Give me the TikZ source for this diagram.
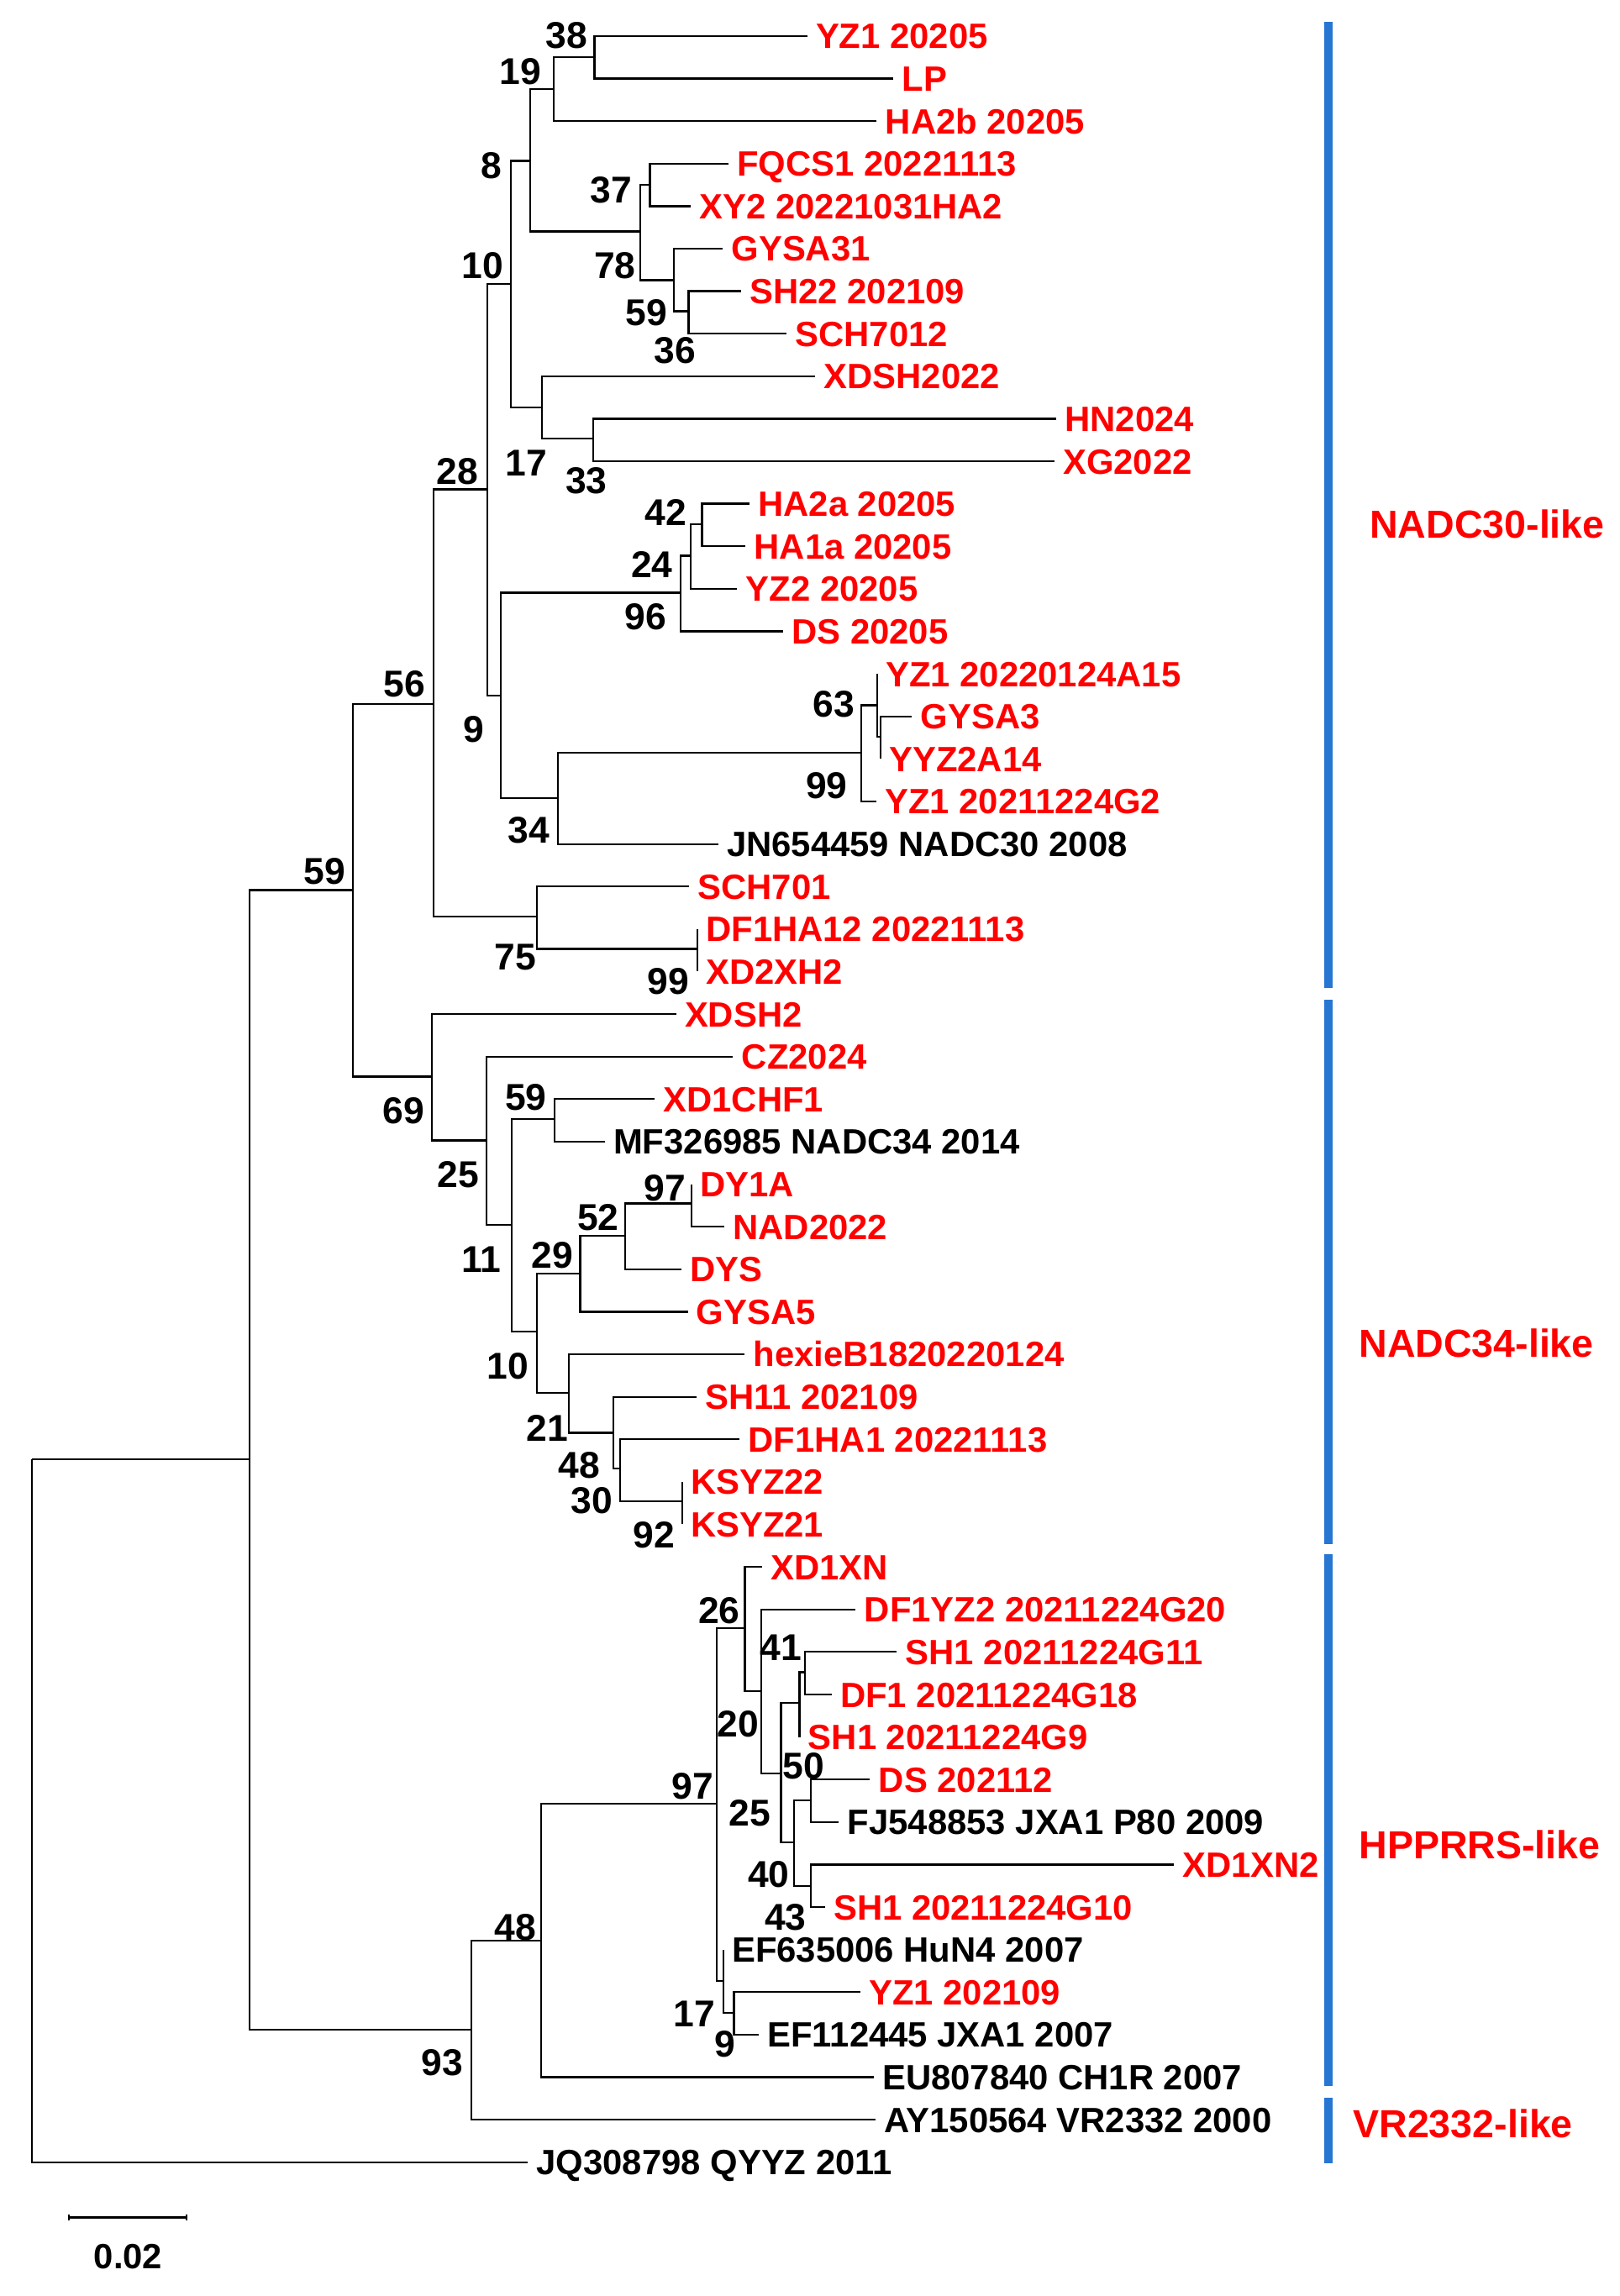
\documentclass[tikz,border=0pt]{standalone}
\usepackage{fontspec}
\setmainfont{Liberation Sans}
\usetikzlibrary{arrows.meta, positioning}
\definecolor{barblue}{RGB}{38,118,210}

\begin{document}
\begin{tikzpicture}[
  x=0.02cm, y=-0.02cm,
  branch/.style={line width=0.75pt, black},
  leaf/.style={anchor=west, inner xsep=0.12cm, inner ysep=0pt, outer sep=0pt, text height=9.8pt, text depth=0pt, font=\fontsize{13.66}{16}\selectfont\bfseries, text=red},
  refleaf/.style={leaf, text=black},
  bs/.style={inner sep=0pt, text height=10.4pt, text depth=0pt, font=\fontsize{14.5}{17}\selectfont\bfseries},
  clade/.style={anchor=west, inner sep=0pt, text height=10.9pt, text depth=0pt, font=\fontsize{15.2}{18}\selectfont\bfseries, text=red},
  cladebar/.style={line width=3.3pt, barblue}
]
\useasboundingbox (0,0) rectangle (1106,1568);

% Internal nodes
\coordinate (root) at (22,996.6);
\coordinate (nL) at (170.2,996.6);
\coordinate (nN) at (240.9,607.9);
\coordinate (n56) at (296.0,480.6);
\coordinate (n28) at (332.8,334.2);
\coordinate (n10) at (349.0,193.8);
\coordinate (n8) at (362.0,109.8);
\coordinate (n19) at (377.9,61.0);
\coordinate (n38) at (405.9,39.1);
\coordinate (n78) at (437.3,158.0);
\coordinate (n37) at (443.8,126.2);
\coordinate (n59c) at (460.0,191.4);
\coordinate (n36) at (470.2,212.5);
\coordinate (n17) at (370.1,278.3);
\coordinate (n33) at (405.0,299.6);
\coordinate (n9) at (342.1,475.1);
\coordinate (n96) at (464.9,404.8);
\coordinate (n24) at (471.5,379.6);
\coordinate (n42) at (479.4,357.9);
\coordinate (n34) at (380.9,544.9);
\coordinate (n99a) at (588.1,514.2);
\coordinate (n63) at (598.9,481.7);
\coordinate (nG) at (601.2,503.2);
\coordinate (n75) at (366.8,626.1);
\coordinate (n99b) at (476.1,648.0);
\coordinate (n69) at (294.7,735.2);
\coordinate (n25) at (332.2,778.8);
\coordinate (n11) at (349.3,836.4);
\coordinate (n59b) at (378.8,764.2);
\coordinate (n10b) at (366.7,909.4);
\coordinate (n29) at (396.2,869.7);
\coordinate (n52) at (426.8,844.1);
\coordinate (n97a) at (472.0,821.8);
\coordinate (n21) at (388.6,951.1);
\coordinate (n48a) at (418.8,978.5);
\coordinate (n30) at (423.3,1002.9);
\coordinate (n92) at (465.7,1025.4);
\coordinate (n93) at (321.8,1386.3);
\coordinate (n48b) at (369.5,1325.1);
\coordinate (n97b) at (489.4,1231.6);
\coordinate (n26) at (508.6,1111.7);
\coordinate (n20) at (519.8,1154.7);
\coordinate (nX) at (533.2,1211.1);
\coordinate (nY) at (545.9,1162.9);
\coordinate (n41) at (549.7,1142.0);
\coordinate (n25b) at (542.0,1258.2);
\coordinate (n50) at (553.6,1229.5);
\coordinate (n43) at (553.6,1287.9);
\coordinate (nH) at (493.8,1352.9);
\coordinate (n17b) at (501.1,1374.5);

% Taxa
\node[leaf] (yz1a) at (551.1,24.6) {YZ1 20205};
\node[leaf] (lp) at (610.1,53.6) {LP};
\node[leaf] (ha2b) at (598.6,82.7) {HA2b 20205};
\node[leaf] (fqcs1) at (497.3,111.7) {FQCS1 20221113};
\node[leaf] (xy2) at (471.8,140.8) {XY2 20221031HA2};
\node[leaf] (gysa31) at (493.5,169.8) {GYSA31};
\node[leaf] (sh22) at (506.0,198.8) {SH22 202109};
\node[leaf] (sch7012) at (537.1,227.9) {SCH7012};
\node[leaf] (xdsh2022) at (556.7,256.9) {XDSH2022};
\node[leaf] (hn2024) at (721.1,286.0) {HN2024};
\node[leaf] (xg2022) at (719.9,315.0) {XG2022};
\node[leaf] (ha2a) at (511.7,344.0) {HA2a 20205};
\node[leaf] (ha1a) at (509.0,373.1) {HA1a 20205};
\node[leaf] (yz2) at (503.4,402.1) {YZ2 20205};
\node[leaf] (ds20205) at (534.7,431.2) {DS 20205};
\node[leaf] (yz1b) at (598.9,460.2) {YZ1 20220124A15};
\node[leaf] (gysa3) at (622.6,489.2) {GYSA3};
\node[leaf] (yyz2) at (601.2,518.3) {YYZ2A14};
\node[leaf] (yz1c) at (598.3,547.3) {YZ1 20211224G2};
\node[refleaf] (jn654459) at (490.3,576.4) {JN654459 NADC30 2008};
\node[leaf] (sch701) at (470.5,605.4) {SCH701};
\node[leaf] (df1ha12) at (476.1,634.4) {DF1HA12 20221113};
\node[leaf] (xd2xh2) at (476.1,663.5) {XD2XH2};
\node[leaf] (xdsh2) at (461.6,692.5) {XDSH2};
\node[leaf] (cz2024) at (500.5,721.6) {CZ2024};
\node[leaf] (xd1chf1) at (447.0,750.6) {XD1CHF1};
\node[refleaf] (mf326985) at (412.9,779.6) {MF326985 NADC34 2014};
\node[leaf] (dy1a) at (472.0,808.7) {DY1A};
\node[leaf] (nad2022) at (494.6,837.7) {NAD2022};
\node[leaf] (dys) at (465.1,866.8) {DYS};
\node[leaf] (gysa5) at (469.6,895.8) {GYSA5};
\node[leaf] (hexie) at (508.5,924.8) {hexieB1820220124};
\node[leaf] (sh11) at (475.5,953.9) {SH11 202109};
\node[leaf] (df1ha1) at (505.0,982.9) {DF1HA1 20221113};
\node[leaf] (ksyz22) at (465.7,1012.0) {KSYZ22};
\node[leaf] (ksyz21) at (465.7,1041.0) {KSYZ21};
\node[leaf] (xd1xn) at (520.2,1070.0) {XD1XN};
\node[leaf] (df1yz2) at (584.3,1099.1) {DF1YZ2 20211224G20};
\node[leaf] (sh1g11) at (612.4,1128.1) {SH1 20211224G11};
\node[leaf] (df1g18) at (567.8,1157.2) {DF1 20211224G18};
\node[leaf] (sh1g9) at (545.9,1186.2) {SH1 20211224G9};
\node[leaf] (ds202112) at (594.0,1215.2) {DS 202112};
\node[refleaf] (fj548853) at (572.8,1244.3) {FJ548853 JXA1 P80 2009};
\node[leaf] (xd1xn2) at (801.4,1273.3) {XD1XN2};
\node[leaf] (sh1g10) at (563.2,1302.4) {SH1 20211224G10};
\node[refleaf] (ef635006) at (493.8,1331.4) {EF635006 HuN4 2007};
\node[leaf] (yz1d) at (587.4,1360.4) {YZ1 202109};
\node[refleaf] (ef112445) at (518.0,1389.5) {EF112445 JXA1 2007};
\node[refleaf] (eu807840) at (596.5,1418.5) {EU807840 CH1R 2007};
\node[refleaf] (ay150564) at (597.7,1447.6) {AY150564 VR2332 2000};
\node[refleaf] (jq308798) at (360.4,1476.6) {JQ308798 QYYZ 2011};

% Branches
\draw[branch] (root) |- (nL) (root) |- (jq308798.west);
\draw[branch] (nL) |- (nN) (nL) |- (n93);
\draw[branch] (nN) |- (n56) (nN) |- (n69);
\draw[branch] (n56) |- (n28) (n56) |- (n75);
\draw[branch] (n28) |- (n10) (n28) |- (n9);
\draw[branch] (n10) |- (n8) (n10) |- (n17);
\draw[branch] (n8) |- (n19) (n8) |- (n78);
\draw[branch] (n19) |- (n38) (n19) |- (ha2b.west);
\draw[branch] (n38) |- (yz1a.west) (n38) |- (lp.west);
\draw[branch] (n78) |- (n37) (n78) |- (n59c);
\draw[branch] (n37) |- (fqcs1.west) (n37) |- (xy2.west);
\draw[branch] (n59c) |- (gysa31.west) (n59c) |- (n36);
\draw[branch] (n36) |- (sh22.west) (n36) |- (sch7012.west);
\draw[branch] (n17) |- (xdsh2022.west) (n17) |- (n33);
\draw[branch] (n33) |- (hn2024.west) (n33) |- (xg2022.west);
\draw[branch] (n9) |- (n96) (n9) |- (n34);
\draw[branch] (n96) |- (n24) (n96) |- (ds20205.west);
\draw[branch] (n24) |- (n42) (n24) |- (yz2.west);
\draw[branch] (n42) |- (ha2a.west) (n42) |- (ha1a.west);
\draw[branch] (n34) |- (n99a) (n34) |- (jn654459.west);
\draw[branch] (n99a) |- (n63) (n99a) |- (yz1c.west);
\draw[branch] (n63) |- (yz1b.west) (n63) |- (nG);
\draw[branch] (nG) |- (gysa3.west) (nG) |- (yyz2.west);
\draw[branch] (n75) |- (sch701.west) (n75) |- (n99b);
\draw[branch] (n99b) |- (df1ha12.west) (n99b) |- (xd2xh2.west);
\draw[branch] (n69) |- (xdsh2.west) (n69) |- (n25);
\draw[branch] (n25) |- (cz2024.west) (n25) |- (n11);
\draw[branch] (n11) |- (n59b) (n11) |- (n10b);
\draw[branch] (n59b) |- (xd1chf1.west) (n59b) |- (mf326985.west);
\draw[branch] (n10b) |- (n29) (n10b) |- (n21);
\draw[branch] (n29) |- (n52) (n29) |- (gysa5.west);
\draw[branch] (n52) |- (n97a) (n52) |- (dys.west);
\draw[branch] (n97a) |- (dy1a.west) (n97a) |- (nad2022.west);
\draw[branch] (n21) |- (hexie.west) (n21) |- (n48a);
\draw[branch] (n48a) |- (sh11.west) (n48a) |- (n30);
\draw[branch] (n30) |- (df1ha1.west) (n30) |- (n92);
\draw[branch] (n92) |- (ksyz22.west) (n92) |- (ksyz21.west);
\draw[branch] (n93) |- (n48b) (n93) |- (ay150564.west);
\draw[branch] (n48b) |- (n97b) (n48b) |- (eu807840.west);
\draw[branch] (n97b) |- (n26) (n97b) |- (nH);
\draw[branch] (n26) |- (xd1xn.west) (n26) |- (n20);
\draw[branch] (n20) |- (df1yz2.west) (n20) |- (nX);
\draw[branch] (nX) |- (nY) (nX) |- (n25b);
\draw[branch] (nY) |- (n41) (nY) |- (sh1g9.west);
\draw[branch] (n41) |- (sh1g11.west) (n41) |- (df1g18.west);
\draw[branch] (n25b) |- (n50) (n25b) |- (n43);
\draw[branch] (n50) |- (ds202112.west) (n50) |- (fj548853.west);
\draw[branch] (n43) |- (xd1xn2.west) (n43) |- (sh1g10.west);
\draw[branch] (nH) |- (ef635006.west) (nH) |- (n17b);
\draw[branch] (n17b) |- (yz1d.west) (n17b) |- (ef112445.west);

% Bootstrap values
\node[bs] (b38) at (386.9,24.1) {38};
\node[bs] (b19) at (355.2,48.3) {19};
\node[bs] (b8) at (335.6,113.0) {8};
\node[bs] (b37) at (417.4,129.5) {37};
\node[bs] (b78) at (419.9,181.1) {78};
\node[bs] (b59c) at (441.3,212.9) {59};
\node[bs] (b36) at (460.9,238.8) {36};
\node[bs] (b10) at (329.7,181.1) {10};
\node[bs] (b17) at (359.2,316.1) {17};
\node[bs] (b33) at (400.3,328.2) {33};
\node[bs] (b28) at (312.4,321.6) {28};
\node[bs] (b42) at (454.7,349.5) {42};
\node[bs] (b24) at (445.1,385.3) {24};
\node[bs] (b96) at (440.9,420.9) {96};
\node[bs] (b56) at (276.2,467.0) {56};
\node[bs] (b9) at (323.3,497.7) {9};
\node[bs] (b63) at (569.3,480.6) {63};
\node[bs] (b99a) at (564.4,536.1) {99};
\node[bs] (b34) at (361.2,566.8) {34};
\node[bs] (b75) at (351.9,653.5) {75};
\node[bs] (b99b) at (456.4,669.9) {99};
\node[bs] (b59) at (221.8,594.7) {59};
\node[bs] (b69) at (275.6,758.3) {69};
\node[bs] (b25) at (312.8,801.8) {25};
\node[bs] (b59b) at (359.0,749.3) {59};
\node[bs] (b97a) at (453.9,810.8) {97};
\node[bs] (b52) at (408.4,831.3) {52};
\node[bs] (b29) at (377.1,856.9) {29};
\node[bs] (b11) at (328.8,859.5) {11};
\node[bs] (b10b) at (346.8,932.4) {10};
\node[bs] (b21) at (373.6,975.2) {21};
\node[bs] (b48a) at (395.5,1000.3) {48};
\node[bs] (b30) at (404.2,1024.6) {30};
\node[bs] (b92) at (446.6,1047.7) {92};
\node[bs] (b26) at (491.0,1099.4) {26};
\node[bs] (b41) at (533.2,1125.0) {41};
\node[bs] (b20) at (504.0,1176.9) {20};
\node[bs] (b50) at (548.6,1205.5) {50};
\node[bs] (b97b) at (472.9,1219.3) {97};
\node[bs] (b25b) at (512.1,1237.7) {25};
\node[bs] (b40) at (524.8,1279.7) {40};
\node[bs] (b43) at (536.3,1309.0) {43};
\node[bs] (b48b) at (352.0,1316.0) {48};
\node[bs] (b17b) at (473.9,1374.9) {17};
\node[bs] (b9b) at (495.0,1395.9) {9};
\node[bs] (b93) at (301.9,1408.3) {93};

% Clades
\draw[cladebar] (907,15) -- (907,674.6);
\draw[cladebar] (907,682.6) -- (907,1054.4);
\draw[cladebar] (907,1061.3) -- (907,1424.5);
\draw[cladebar] (907,1432.6) -- (907,1477.2);
\node[clade] (c30) at (935,358) {NADC30-like};
\node[clade] (c34) at (927.6,917.5) {NADC34-like};
\node[clade] (chp) at (927.6,1260) {HPPRRS-like};
\node[clade] (cvr) at (923.6,1450) {VR2332-like};

% Scale bar
\coordinate (sbl) at (46.5,1514.4);
\coordinate (sbr) at (128.0,1514.4);
\draw[branch, {Bar[width=2.4pt]}-{Bar[width=2.4pt]}] (sbl) -- (sbr);
\node[bs, font=\fontsize{13.66}{16}\selectfont\bfseries] (sblab) at (87.5,1540.2) {0.02};

\end{tikzpicture}
\end{document}
